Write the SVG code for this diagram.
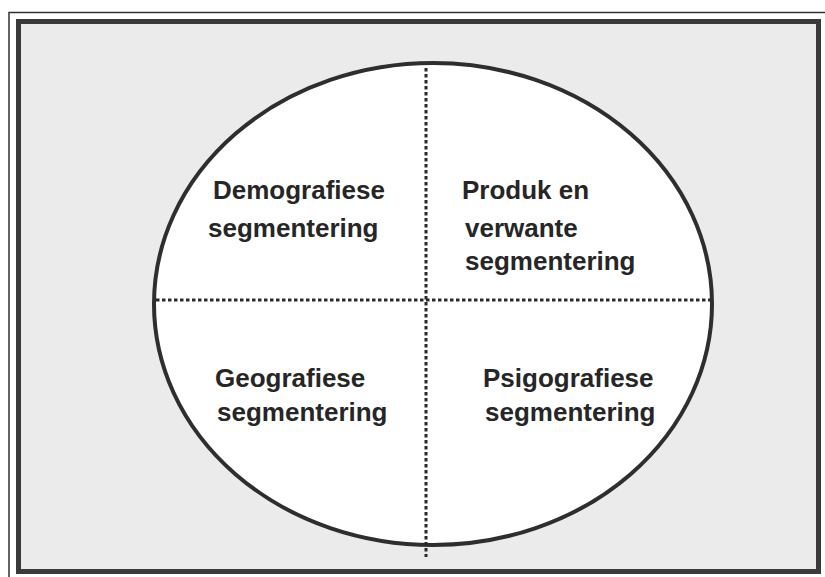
<svg xmlns="http://www.w3.org/2000/svg" width="825" height="577" viewBox="0 0 825 577">
<style>
.lbl{font-family:"Liberation Sans",Arial,sans-serif;font-weight:bold;font-size:26px;fill:#262626}
.div{stroke:#2a2a2a;stroke-width:3;stroke-dasharray:3.5 2.5;fill:none}
</style>
<rect x="0" y="0" width="825" height="577" fill="#ffffff"/>
<path d="M9 577 V12.5 H825" fill="none" stroke="#333" stroke-width="1.5"/>
<rect x="18.5" y="21.5" width="800" height="550" fill="#ebebeb" stroke="#3a3a3a" stroke-width="5"/>
<g id="ellipse">
<ellipse cx="433" cy="304" rx="279" ry="241" fill="#ffffff" stroke="#2e2e2e" stroke-width="4"/>
</g>
<g id="connectors">
<line class="div" x1="156" y1="300" x2="710" y2="300"/>
<line class="div" x1="426" y1="68" x2="426" y2="557"/>
</g>
<g id="demografiese">
<text class="lbl" x="213" y="199">Demografiese</text>
<text class="lbl" x="208" y="237">segmentering</text>
</g>
<g id="produk">
<text class="lbl" x="462" y="199">Produk en</text>
<text class="lbl" x="465" y="237">verwante</text>
<text class="lbl" x="465" y="270">segmentering</text>
</g>
<g id="geografiese">
<text class="lbl" x="215" y="387">Geografiese</text>
<text class="lbl" x="217" y="421">segmentering</text>
</g>
<g id="psigografiese">
<text class="lbl" x="483" y="387">Psigografiese</text>
<text class="lbl" x="485" y="421">segmentering</text>
</g>
</svg>
